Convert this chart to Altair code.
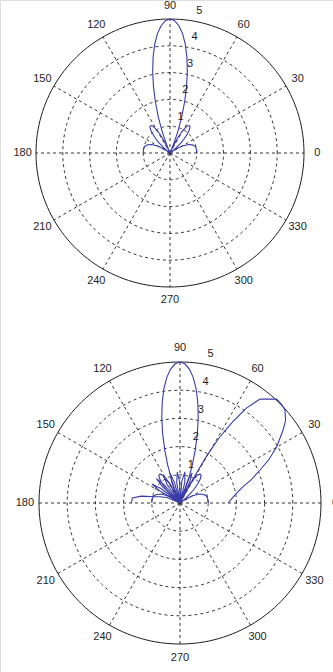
import altair as alt
import pandas as pd

# ---- data (angle in degrees, radius in plot units) ----
# broadside pattern (upper plot and first curve of the lower plot)
a_theta = [0, 5, 10, 15, 20, 25, 30, 33, 35, 36.9, 38, 40, 43, 45, 48, 50, 52, 53, 55, 57,
           58, 60, 62, 63, 65, 66.4, 68, 70, 72, 74, 76, 78, 80, 82, 84, 86, 88, 90,
           92, 94, 96, 98, 100, 102, 104, 106, 108, 110, 112, 113.6, 115, 117, 118, 120,
           122, 123, 125, 127, 128, 130, 132, 135, 137, 140, 142, 143.1, 145, 147, 150,
           155, 160, 165, 170, 175, 180]
a_r = [1.0, 1.0, 0.99, 0.97, 0.89, 0.75, 0.51, 0.31, 0.16, 0.0, 0.10, 0.28, 0.56, 0.74, 0.99,
       1.12, 1.21, 1.24, 1.25, 1.20, 1.15, 1.0, 0.77, 0.63, 0.29, 0.0, 0.36, 0.86, 1.41, 1.97,
       2.55, 3.11, 3.63, 4.10, 4.48, 4.76, 4.94, 5.0,
       4.94, 4.76, 4.48, 4.10, 3.63, 3.11, 2.55, 1.97, 1.41, 0.86, 0.36, 0.0, 0.29, 0.63,
       0.77, 1.0, 1.15, 1.20, 1.25, 1.24, 1.21, 1.12, 0.99, 0.74, 0.56, 0.28, 0.10, 0.0,
       0.16, 0.31, 0.51, 0.75, 0.89, 0.97, 0.99, 1.0, 1.0]

# steered pattern (second curve of the lower plot)
b_theta = [0, 5, 10, 14.5, 18, 22.4, 26, 30.2, 35.3, 38, 41.5, 44, 47.1, 52.4, 55, 57, 59,
           60.5, 61.5, 62.5, 65, 68, 71, 74, 77, 81, 85, 88, 91, 95, 99, 102, 105, 108.5,
           112, 115, 118, 121.5, 125, 128, 131, 134, 137, 140, 143, 146, 149, 152, 157,
           163, 166, 170, 174, 180]
b_r = [1.70, 1.85, 2.05, 2.31, 2.65, 3.07, 3.50, 3.97, 4.48, 4.75, 4.97, 5.02, 5.03, 4.65,
       4.12, 3.44, 2.70, 1.90, 1.00, 0.0, 0.80, 1.15, 0.90, 0.0, 0.75, 1.12, 0.80, 0.0, 0.75,
       1.10, 0.75, 0.0, 0.75, 1.11, 0.75, 0.0, 0.78, 1.12, 0.78, 0.0, 0.85, 1.20, 0.85, 0.0,
       0.85, 1.20, 0.85, 0.0, 0.50, 0.75, 0.91, 1.40, 1.70, 1.72]

ring_radii = [1, 2, 3, 4]
r_max = 5
spoke_angles = [0, 30, 60, 90, 120, 150, 180, 210, 240, 270, 300, 330]
angle_labels = ["0", "30", "60", "90", "120", "150", "180", "210", "240", "270", "300", "330"]
radial_ticks = [1, 2, 3, 4, 5]
radial_labels = ["1", "2", "3", "4", "5"]

# layout of the two polar panels on the page: centre (px) and outer radius (px)
panels = [
    {"name": "top", "cx": 170, "cy": 153, "R": 134, "curves": [("A", a_theta, a_r)]},
    {"name": "bottom", "cx": 180, "cy": 503, "R": 141,
     "curves": [("A", a_theta, a_r), ("B", b_theta, b_r)]},
]

W, H = 333, 672
LINE = "#3b3ba8"
INK = "#1e1e1e"
FONT = "Liberation Sans"

xs = alt.Scale(domain=[0, W], nice=False, zero=False)
ys = alt.Scale(domain=[H, 0], nice=False, zero=False)


def X(f):
    return alt.X(f, type="quantitative", scale=xs, axis=None)


def Y(f):
    return alt.Y(f, type="quantitative", scale=ys, axis=None)


def px(p, rexpr, aexpr):
    k = p["R"] / r_max
    return (f"{p['cx']} + {k}*({rexpr})*cos(({aexpr})*PI/180)",
            f"{p['cy']} - {k}*({rexpr})*sin(({aexpr})*PI/180)")


layers = []
for p in panels:
    # dashed inner rings
    ex, ey = px(p, "datum.ring", "datum.ang")
    rings = (alt.Chart(pd.DataFrame({"ring": ring_radii}))
             .transform_calculate(ang="sequence(0, 361, 2)")
             .transform_flatten(["ang"])
             .transform_calculate(x=ex, y=ey)
             .mark_line(color=INK, strokeWidth=0.9, strokeDash=[3, 3])
             .encode(x=X("x"), y=Y("y"), detail="ring:N", order="ang:Q"))
    outer = (alt.Chart(pd.DataFrame({"ring": [r_max]}))
             .transform_calculate(ang="sequence(0, 361, 2)")
             .transform_flatten(["ang"])
             .transform_calculate(x=ex, y=ey)
             .mark_line(color=INK, strokeWidth=1)
             .encode(x=X("x"), y=Y("y"), detail="ring:N", order="ang:Q"))
    # dashed spokes
    sx0, sy0 = px(p, "0", "datum.a")
    sx1, sy1 = px(p, str(r_max), "datum.a")
    spokes = (alt.Chart(pd.DataFrame({"a": spoke_angles}))
              .transform_calculate(x0=sx0, y0=sy0, x1=sx1, y1=sy1)
              .mark_rule(color=INK, strokeWidth=0.9, strokeDash=[3, 3])
              .encode(x=X("x0"), y=Y("y0"), x2="x1:Q", y2="y1:Q"))
    # angle labels
    lx, ly = px(p, f"{r_max}*1.1", "datum.a")
    albl = (alt.Chart(pd.DataFrame({"a": spoke_angles, "t": angle_labels}))
            .transform_calculate(x=lx, y=ly)
            .mark_text(font=FONT, fontSize=11, color=INK, align="center", baseline="middle")
            .encode(x=X("x"), y=Y("y"), text="t:N"))
    # radial tick labels
    rx, ry = px(p, "datum.r", "80")
    rlbl = (alt.Chart(pd.DataFrame({"r": radial_ticks, "t": radial_labels}))
            .transform_calculate(x=rx, y=ry)
            .mark_text(font=FONT, fontSize=11, color=INK, align="center",
                       baseline="middle", dx=6, dy=-10)
            .encode(x=X("x"), y=Y("y"), text="t:N"))
    # pattern curves
    frames = []
    for name, th, rr in p["curves"]:
        frames.append(pd.DataFrame({"theta": th, "r": rr, "idx": range(len(th)),
                                    "s": p["name"] + name}))
    cdf = pd.concat(frames, ignore_index=True)
    cx_, cy_ = px(p, "datum.r", "datum.theta")
    curve = (alt.Chart(cdf)
             .transform_calculate(x=cx_, y=cy_)
             .mark_line(color=LINE, strokeWidth=1.1)
             .encode(x=X("x"), y=Y("y"), detail="s:N", order="idx:Q"))
    layers += [spokes, rings, outer, curve, albl, rlbl]

chart = (alt.layer(*layers)
         .properties(width=W, height=H, padding=0,
                     autosize=alt.AutoSizeParams(type="none"))
         .configure_view(stroke=None)
         .configure(background="white"))

chart.save("out.html", embed_options={"renderer": "svg", "actions": False})
